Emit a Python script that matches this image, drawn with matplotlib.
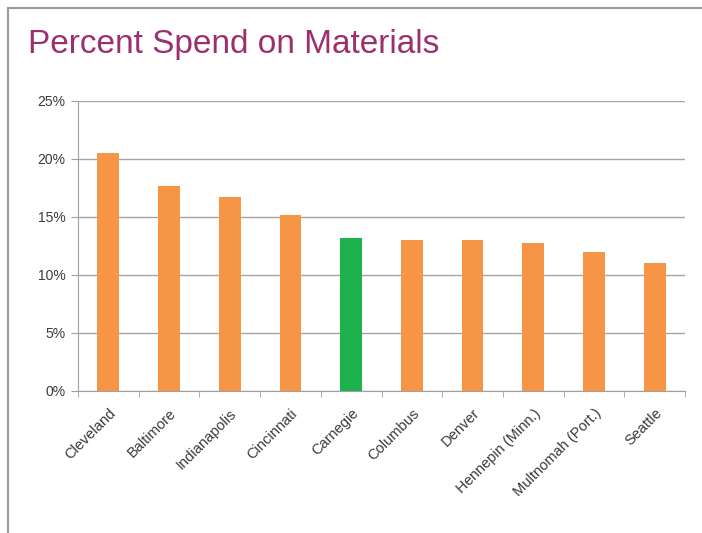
import numpy as np
import matplotlib
matplotlib.use("Agg")
import matplotlib.pyplot as plt
from matplotlib.ticker import FuncFormatter, MultipleLocator

# Chart data
libraries = ["Cleveland", "Baltimore", "Indianapolis", "Cincinnati", "Carnegie",
             "Columbus", "Denver", "Hennepin (Minn.)", "Multnomah (Port.)", "Seattle"]
pct_materials = [20.5, 17.7, 16.7, 15.2, 13.2, 13.0, 13.0, 12.8, 12.0, 11.0]
highlight = "Carnegie"

orange = "#f59545"
green = "#1db24e"
colors = [green if name == highlight else orange for name in libraries]

plt.rcParams['font.family'] = ['Liberation Sans', 'DejaVu Sans']

fig = plt.figure(figsize=(7.02, 5.33), dpi=100)
fig.patch.set_facecolor("white")

# outer frame (left and top gray border)
fig.add_artist(plt.Line2D([8 / 702, 8 / 702], [0, 1 - 8 / 533], color="#9a9a9a", lw=1.5))
fig.add_artist(plt.Line2D([8 / 702, 1], [1 - 8 / 533, 1 - 8 / 533], color="#9a9a9a", lw=1.5))

fig.text(28 / 702, 1 - 45 / 533, "Percent Spend on Materials", fontsize=24,
         color="#9c2f6e", va="center", ha="left")

ax = fig.add_axes([78 / 702, 1 - 391 / 533, 607 / 702, 290 / 533])
x = np.arange(len(libraries))
ax.bar(x, pct_materials, width=0.36, color=colors, zorder=3)

ax.set_ylim(0, 25)
ax.set_xlim(-0.5, len(libraries) - 0.5)
ax.yaxis.set_major_locator(MultipleLocator(5))
ax.yaxis.set_major_formatter(FuncFormatter(lambda v, p: "%d%%" % v))
ax.grid(axis="y", color="#b0a0a2", lw=1.0, zorder=0)

for s in ["top", "right"]:
    ax.spines[s].set_visible(False)
ax.spines["left"].set_color("#a0a0a0")
ax.spines["bottom"].set_color("#a0a0a0")

ax.set_xticks(x)
ax.set_xticklabels(libraries, rotation=45, ha="right", rotation_mode="anchor",
                   fontsize=10.5, color="#3a3a3a")
ax.tick_params(axis="x", length=0, pad=11)
ax.set_xticks(np.arange(-0.5, len(libraries), 1), minor=True)
ax.tick_params(axis="x", which="minor", length=4, color="#a0a0a0")
ax.tick_params(axis="y", length=5, color="#a0a0a0", labelsize=10, labelcolor="#3a3a3a", pad=4)

plt.savefig("out.png", dpi=100)
